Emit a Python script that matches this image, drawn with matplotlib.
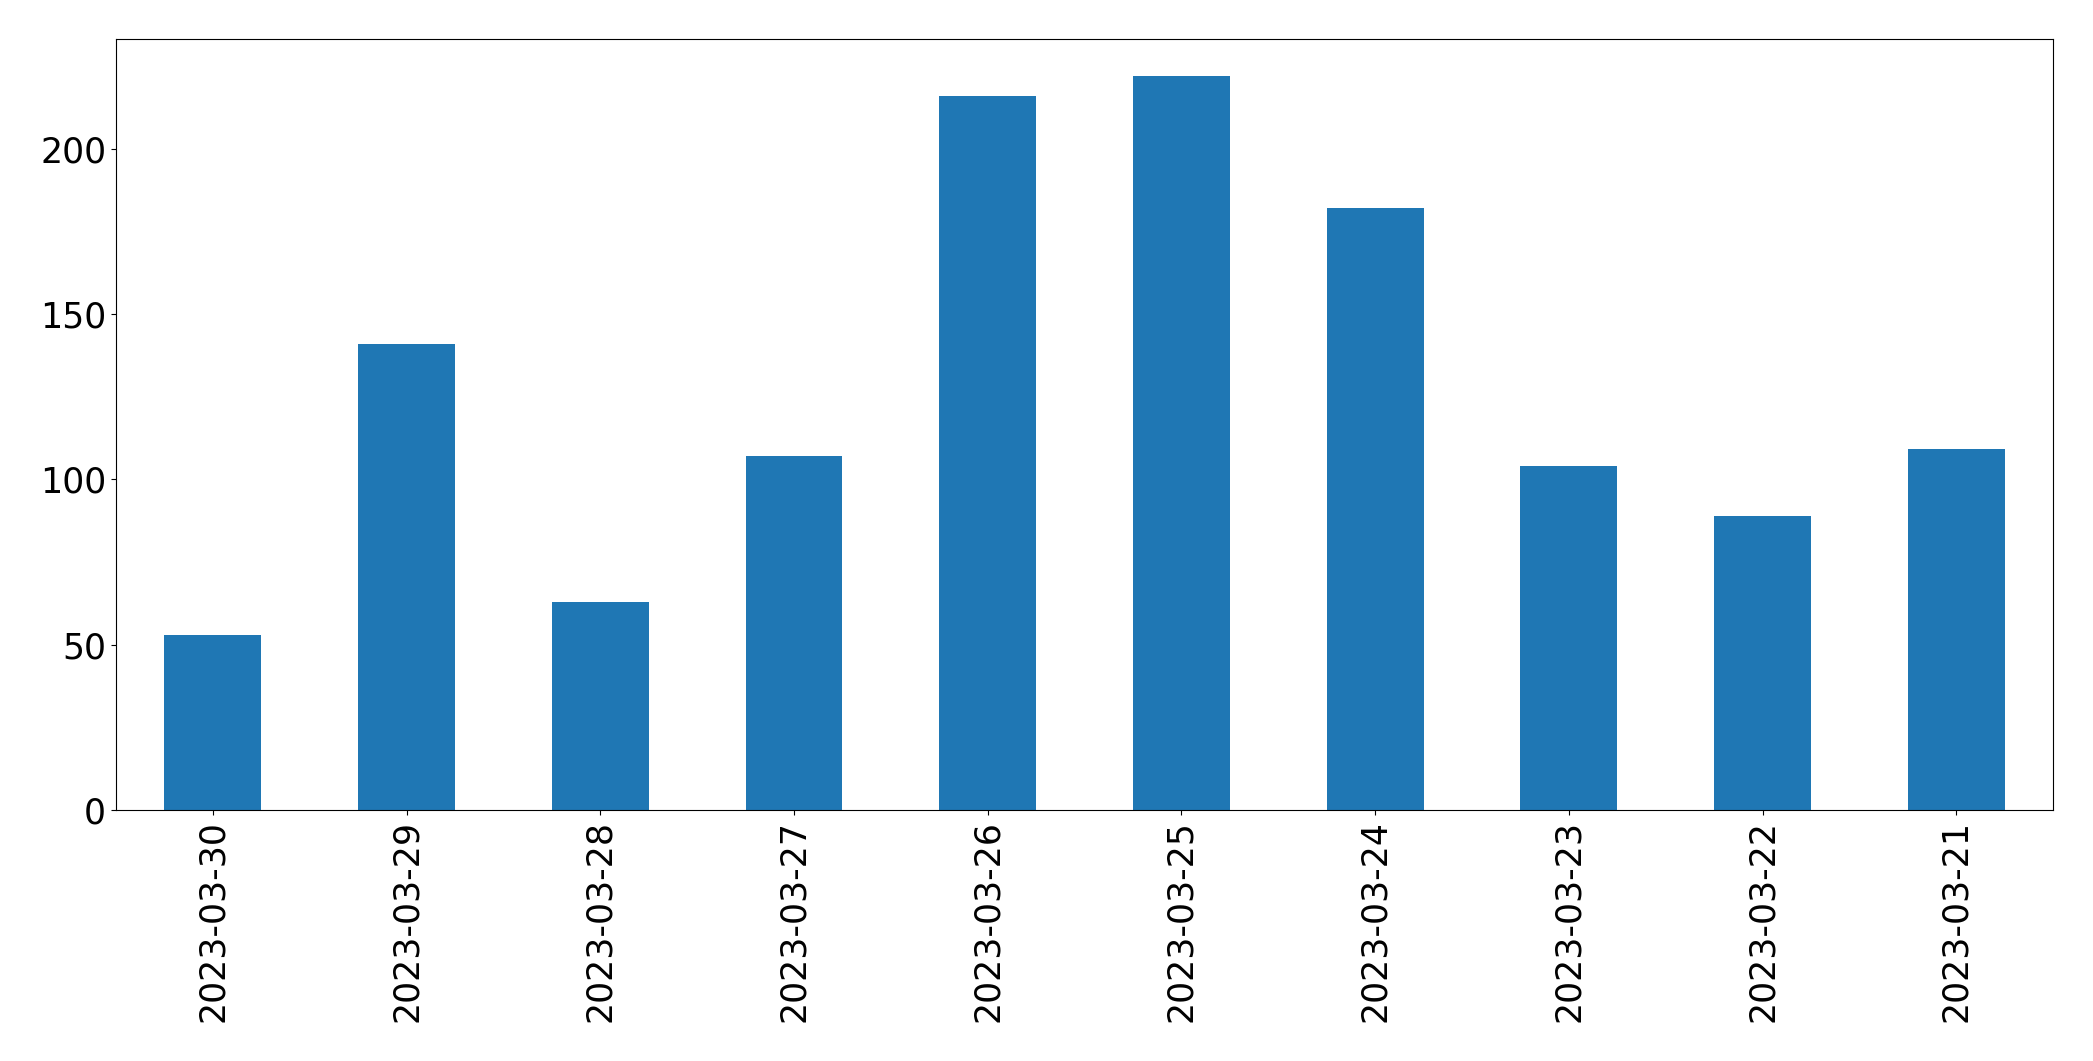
import matplotlib
matplotlib.use("Agg")
import matplotlib.pyplot as plt

dates = ["2023-03-30", "2023-03-29", "2023-03-28", "2023-03-27", "2023-03-26",
         "2023-03-25", "2023-03-24", "2023-03-23", "2023-03-22", "2023-03-21"]
counts = [53, 141, 63, 107, 216, 222, 182, 104, 89, 109]

fig = plt.figure(figsize=(20.93, 10.61), dpi=100)
ax = fig.add_axes([0.0554, 0.2366, 0.9256, 0.7266])
x = list(range(len(dates)))
ax.bar(x, counts, width=0.5, color="#1f77b4")
ax.set_xlim(-0.5, len(dates) - 0.5)
ax.set_xticks(x)
ax.set_xticklabels(dates, rotation=90)
ax.tick_params(axis="both", labelsize=25)
fig.savefig("out.png", dpi=100)
